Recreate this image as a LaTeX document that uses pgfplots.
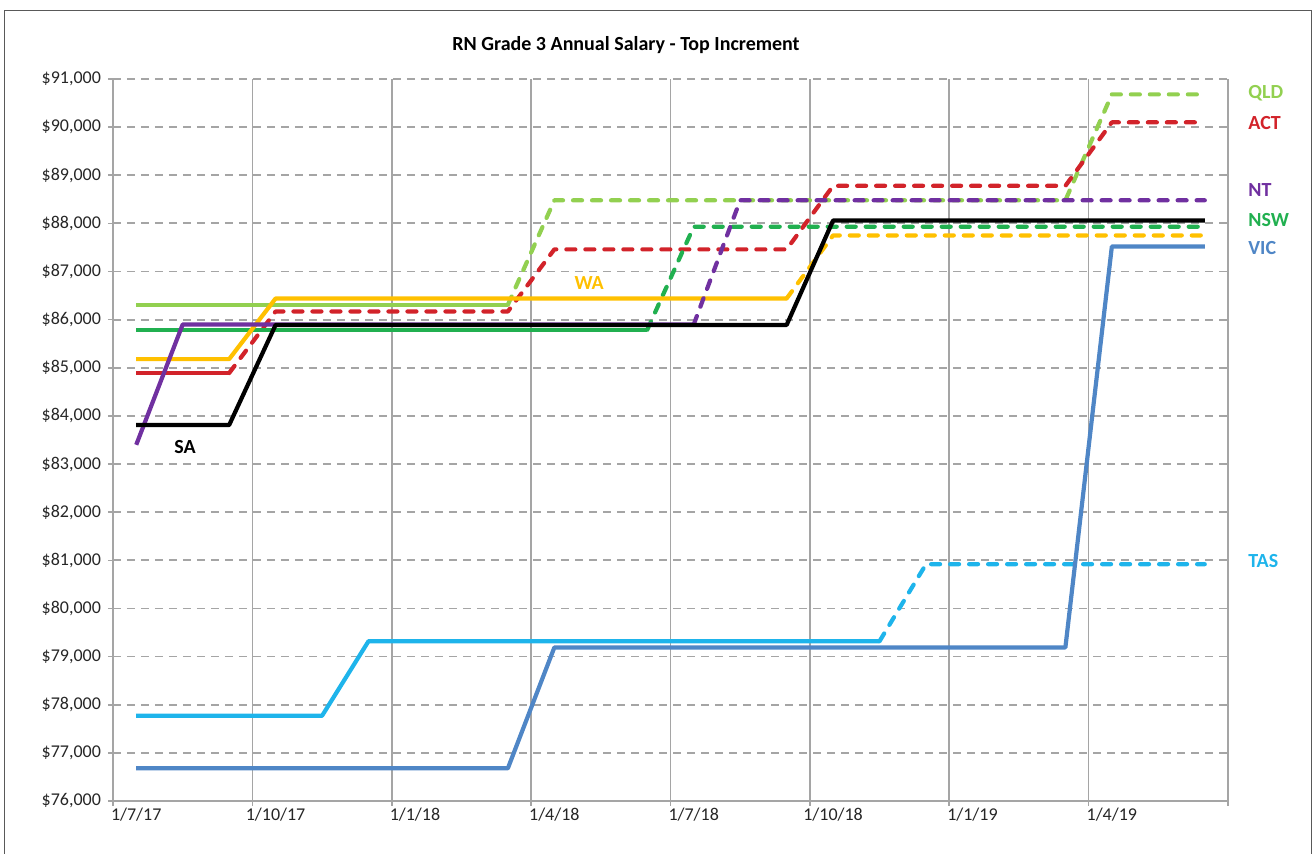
\documentclass[border=0pt]{standalone}
\usepackage{fontspec}
\setmainfont{Carlito}
\usepackage{pgfplots}
\usepackage{pgfplotstable}
\pgfplotsset{compat=1.18}
\definecolor{gridgray}{RGB}{165,165,165}
\definecolor{cQLD}{RGB}{146,208,80}
\definecolor{cACT}{RGB}{210,35,42}
\definecolor{cNT}{RGB}{112,48,160}
\definecolor{cNSW}{RGB}{33,176,80}
\definecolor{cVIC}{RGB}{79,134,198}
\definecolor{cWA}{RGB}{255,192,0}
\definecolor{cTAS}{RGB}{30,180,235}
\definecolor{cSA}{RGB}{0,0,0}
\pgfplotstableread{
x QLD ACT NT NSW VIC WA TAS SA
0.5 86310 84890 83400 85790 76680 85180 77770 83810
1.5 86310 84890 85900 85790 76680 85180 77770 83810
2.5 86310 84890 85900 85790 76680 85180 77770 83810
3.5 86310 86170 85900 85790 76680 86440 77770 85890
4.5 86310 86170 85900 85790 76680 86440 77770 85890
5.5 86310 86170 85900 85790 76680 86440 79320 85890
6.5 86310 86170 85900 85790 76680 86440 79320 85890
7.5 86310 86170 85900 85790 76680 86440 79320 85890
8.5 86310 86170 85900 85790 76680 86440 79320 85890
9.5 88480 87460 85900 85790 79190 86440 79320 85890
10.5 88480 87460 85900 85790 79190 86440 79320 85890
11.5 88480 87460 85900 85790 79190 86440 79320 85890
12.5 88480 87460 85900 87930 79190 86440 79320 85890
13.5 88480 87460 88480 87930 79190 86440 79320 85890
14.5 88480 87460 88480 87930 79190 86440 79320 85890
15.5 88480 88780 88480 87930 79190 87750 79320 88060
16.5 88480 88780 88480 87930 79190 87750 79320 88060
17.5 88480 88780 88480 87930 79190 87750 80920 88060
18.5 88480 88780 88480 87930 79190 87750 80920 88060
19.5 88480 88780 88480 87930 79190 87750 80920 88060
20.5 88480 88780 88480 87930 79190 87750 80920 88060
21.5 90680 90100 88480 87930 87520 87750 80920 88060
22.5 90680 90100 88480 87930 87520 87750 80920 88060
23.5 90680 90100 88480 87930 87520 87750 80920 88060
}\salary
\begin{document}
\begin{tikzpicture}
\useasboundingbox (-56.5pt,-26.5pt) rectangle (600pt,400.5pt);
\draw[gray!70!black, line width=0.5pt] (-54pt,-40pt) -- (-54pt,395pt) -- (599pt,395pt) -- (599pt,-40pt);
\begin{axis}[
  at={(0pt,0pt)}, anchor=south west,
  width=557.5pt, height=361pt, scale only axis,
  xmin=0, xmax=24, ymin=76000, ymax=91000,
  axis lines=left,
  axis line style={gridgray, line width=0.8pt, -},
  clip=false,
  xtick={0,3,...,24}, xticklabels={},
  extra x ticks={0.5,3.5,6.5,9.5,12.5,15.5,18.5,21.5},
  extra x tick labels={1/7/17,1/10/17,1/1/18,1/4/18,1/7/18,1/10/18,1/1/19,1/4/19},
  extra x tick style={grid=none, major tick length=0pt},
  ytick={76000,77000,...,91000},
  scaled y ticks=false,
  /pgf/number format/assume math mode=true,
  yticklabel={\$\pgfmathprintnumber[fixed,precision=0,1000 sep={,}]{\tick}},
  xmajorgrids, ymajorgrids,
  x grid style={gridgray, line width=0.8pt},
  y grid style={gridgray, line width=0.9pt, dash pattern=on 4pt off 3pt},
  tick align=outside, major tick length=2.5pt,
  tick style={gridgray, line width=0.8pt},
  tick label style={font=\fontsize{9}{11}\selectfont, text=black!85},
  every axis plot/.append style={line width=2.1pt, line join=round},
  dashed seg/.style={line cap=round, dash pattern=on 4.5pt off 5pt},
]
\addplot[cQLD] table[x=x, y=QLD, restrict x to domain=0:8.5] {\salary};
\addplot[cQLD, dashed seg] table[x=x, y=QLD, restrict x to domain=8.5:24] {\salary};
\addplot[cACT] table[x=x, y=ACT, restrict x to domain=0:2.5] {\salary};
\addplot[cACT, dashed seg] table[x=x, y=ACT, restrict x to domain=2.5:24] {\salary};
\addplot[cNSW] table[x=x, y=NSW, restrict x to domain=0:11.5] {\salary};
\addplot[cNSW, dashed seg] table[x=x, y=NSW, restrict x to domain=11.5:24] {\salary};
\addplot[cWA] table[x=x, y=WA, restrict x to domain=0:14.5] {\salary};
\addplot[cWA, dashed seg] table[x=x, y=WA, restrict x to domain=14.5:24] {\salary};
\addplot[cNT] table[x=x, y=NT, restrict x to domain=0:12.5] {\salary};
\addplot[cNT, dashed seg] table[x=x, y=NT, restrict x to domain=12.5:24] {\salary};
\addplot[cTAS] table[x=x, y=TAS, restrict x to domain=0:16.5] {\salary};
\addplot[cTAS, dashed seg] table[x=x, y=TAS, restrict x to domain=16.5:24] {\salary};
\addplot[cVIC] table[x=x, y=VIC] {\salary};
\addplot[cSA] table[x=x, y=SA] {\salary};
\begin{scope}[every node/.style={font=\fontsize{10}{12}\selectfont\bfseries, anchor=west, inner sep=0pt}]
\node[text=cQLD] at (axis cs:24.43,90709) {QLD};
\node[text=cACT] at (axis cs:24.43,90085) {ACT};
\node[text=cNT]  at (axis cs:24.43,88694) {NT};
\node[text=cNSW] at (axis cs:24.43,88070) {NSW};
\node[text=cVIC] at (axis cs:24.43,87489) {VIC};
\node[text=cTAS] at (axis cs:24.43,80986) {TAS};
\end{scope}
\node[font=\fontsize{10}{12}\selectfont\bfseries, text=black, inner sep=0pt] at (axis cs:1.55,83355) {SA};
\node[font=\fontsize{10}{12}\selectfont\bfseries, text=cWA, inner sep=0pt] at (axis cs:10.25,86762) {WA};
\end{axis}
\node[font=\fontsize{10}{12}\selectfont\bfseries, inner sep=0pt] at (256.5pt,378pt) {RN Grade 3 Annual Salary - Top Increment};
\end{tikzpicture}
\end{document}
